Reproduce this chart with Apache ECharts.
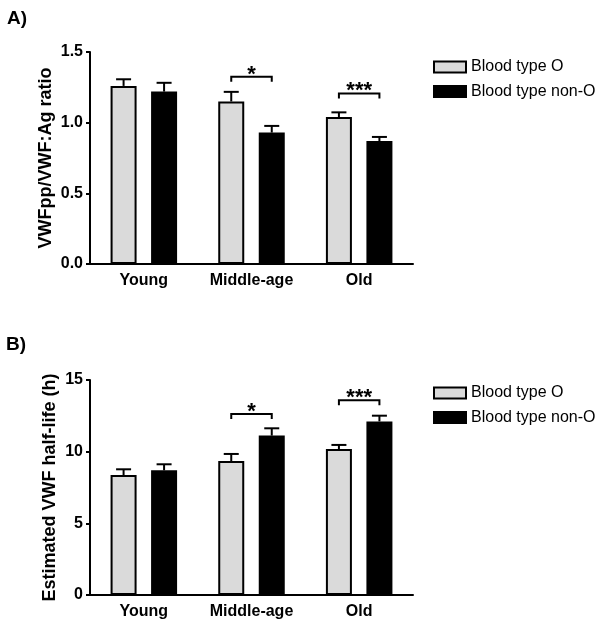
<!DOCTYPE html>
<html>
<head>
<meta charset="utf-8">
<script src="https://cdn.jsdelivr.net/npm/echarts@6/dist/echarts.min.js"></script>
<style>
  html, body { margin: 0; padding: 0; background: #fff; }
  #chart { width: 614px; height: 626px; }
</style>
</head>
<body>
<div id="chart"></div>
<script>
// categories and series
const categories = ["Young", "Middle-age", "Old"];
const seriesNames = ["Blood type O", "Blood type non-O"];

// panel A: VWFpp/VWF:Ag ratio
const ratioO = [1.26, 1.15, 1.04];
const ratioNonO = [1.22, 0.93, 0.87];
const ratioSemO = [0.047, 0.068, 0.033];
const ratioSemNonO = [0.062, 0.047, 0.029];
const ratioBracket = [null, 1.325, 1.207];
const ratioTicks = [0, 0.5, 1.0, 1.5];

// panel B: estimated VWF half-life (h)
const halfO = [8.37, 9.35, 10.18];
const halfNonO = [8.70, 11.12, 12.11];
const halfSemO = [0.40, 0.49, 0.29];
const halfSemNonO = [0.42, 0.51, 0.40];
const halfBracket = [null, 12.63, 13.58];
const halfTicks = [0, 5, 10, 15];

const stars = ["", "*", "***"];

/* ── Style constants ─────────────────────────────────────── */
const FONT = "'Liberation Sans', Arial, sans-serif";
const GRAY = "#dadada";
const BAR_W = 26;
const BAR_GAP = 14.5;
const OFF = (BAR_W + BAR_GAP) / 2;   // px from category centre to each bar centre

const chart = echarts.init(document.getElementById("chart"), null, { renderer: "canvas" });

function errorSeries(gridIdx, means, sems, side) {
	return {
		type: "custom",
		xAxisIndex: gridIdx,
		yAxisIndex: gridIdx,
		silent: true,
		z: 3,
		data: means.map((m, i) => [i, m, m + sems[i]]),
		renderItem(params, api) {
			const base = api.coord([api.value(0), api.value(1)]);
			const top = api.coord([api.value(0), api.value(2)]);
			const x = base[0] + side * OFF;
			const style = { stroke: "#000", lineWidth: 2 };
			return {
				type: "group",
				children: [
					{ type: "line", shape: { x1: x, y1: base[1], x2: x, y2: top[1] }, style },
					{ type: "line", shape: { x1: x - 7.5, y1: top[1], x2: x + 7.5, y2: top[1] }, style },
				],
			};
		},
	};
}

function bracketSeries(gridIdx, tops) {
	const data = [];
	tops.forEach((t, i) => { if (t != null) data.push([i, t, stars[i]]); });
	return {
		type: "custom",
		xAxisIndex: gridIdx,
		yAxisIndex: gridIdx,
		silent: true,
		z: 4,
		data,
		renderItem(params, api) {
			const p = api.coord([api.value(0), api.value(1)]);
			const x1 = p[0] - OFF, x2 = p[0] + OFF, y = p[1];
			const label = data[params.dataIndex][2];
			return {
				type: "group",
				children: [
					{
						type: "polyline",
						shape: { points: [[x1, y + 5], [x1, y], [x2, y], [x2, y + 5]] },
						style: { stroke: "#000", lineWidth: 2, fill: null },
					},
					{
						type: "text",
						style: {
							text: label, x: p[0], y: y - 2,
							align: "center", verticalAlign: "middle",
							font: `bold 22px ${FONT}`, fill: "#000",
						},
					},
				],
			};
		},
	};
}

function barSeries(gridIdx, name, values, color) {
	return {
		type: "bar",
		name,
		xAxisIndex: gridIdx,
		yAxisIndex: gridIdx,
		data: values,
		barWidth: BAR_W,
		barGap: (BAR_GAP / BAR_W * 100).toFixed(1) + "%",
		itemStyle: { color, borderColor: "#000", borderWidth: 2 },
		emphasis: { disabled: true },
		z: 2,
	};
}

function xAxis(gridIdx) {
	return {
		type: "category",
		gridIndex: gridIdx,
		data: categories,
		axisLine: { lineStyle: { color: "#000", width: 2 } },
		axisTick: { alignWithLabel: true, length: 5, lineStyle: { color: "#000", width: 2 } },
		axisLabel: {
			interval: 0, color: "#000", fontFamily: FONT, fontWeight: "bold", fontSize: 16, margin: 9,
		},
		splitLine: { show: false },
	};
}

function yAxis(gridIdx, ticks, name, nameGap, digits) {
	return {
		type: "value",
		gridIndex: gridIdx,
		min: ticks[0],
		max: ticks[ticks.length - 1],
		interval: ticks[1] - ticks[0],
		name,
		nameLocation: "middle",
		nameGap,
		nameMoveOverlap: false,
		nameTextStyle: { color: "#000", fontFamily: FONT, fontWeight: "bold", fontSize: 18 },
		axisLine: { show: true, lineStyle: { color: "#000", width: 2 } },
		axisTick: { show: true, length: 4, lineStyle: { color: "#000", width: 2 } },
		axisLabel: {
			color: "#000", fontFamily: FONT, fontWeight: "bold", fontSize: 16, margin: 7,
			formatter: v => v.toFixed(digits),
		},
		splitLine: { show: false },
	};
}

function legend(top) {
	return {
		data: seriesNames,
		orient: "vertical",
		left: 433,
		top,
		padding: 0,
		icon: "rect",
		itemWidth: 32,
		itemHeight: 11,
		itemGap: 6.5,
		selectedMode: false,
		textStyle: { color: "#000", fontFamily: FONT, fontSize: 16, lineHeight: 18 },
	};
}

function panelTitle(text, left, top) {
	return {
		text, left, top, padding: 0,
		textStyle: { fontFamily: FONT, fontWeight: "bold", fontSize: 19, color: "#000" },
	};
}

chart.setOption({
	animation: false,
	backgroundColor: "#fff",
	title: [panelTitle("A)", 7, 9), panelTitle("B)", 6, 335)],
	legend: [legend(58), legend(384)],
	grid: [
		{ left: 90, top: 52, width: 323, height: 212 },
		{ left: 90, top: 380, width: 323, height: 215 },
	],
	xAxis: [xAxis(0), xAxis(1)],
	yAxis: [
		yAxis(0, ratioTicks, "VWFpp/VWF:Ag ratio", 35, 1),
		yAxis(1, halfTicks, "Estimated VWF half-life (h)", 31, 0),
	],
	series: [
		barSeries(0, seriesNames[0], ratioO, GRAY),
		barSeries(0, seriesNames[1], ratioNonO, "#000"),
		errorSeries(0, ratioO, ratioSemO, -1),
		errorSeries(0, ratioNonO, ratioSemNonO, 1),
		bracketSeries(0, ratioBracket),

		barSeries(1, seriesNames[0], halfO, GRAY),
		barSeries(1, seriesNames[1], halfNonO, "#000"),
		errorSeries(1, halfO, halfSemO, -1),
		errorSeries(1, halfNonO, halfSemNonO, 1),
		bracketSeries(1, halfBracket),
	],
});
</script>
</body>
</html>
